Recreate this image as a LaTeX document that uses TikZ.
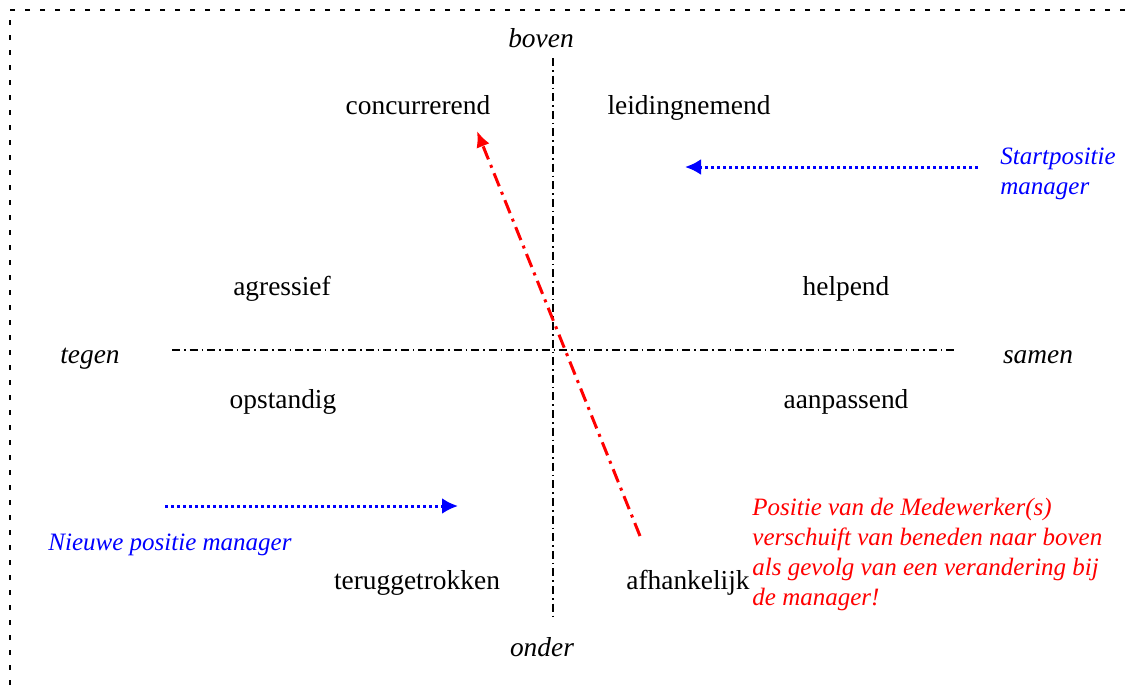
\documentclass[tikz,border=0pt]{standalone}
\usepackage{fontspec}
\setmainfont{Liberation Serif}
\usetikzlibrary{arrows.meta, positioning}
\definecolor{moveRed}{RGB}{255,0,0}
\definecolor{managerBlue}{RGB}{0,0,255}

\begin{document}
\begin{tikzpicture}[x=0.5pt, y=-0.5pt,
        every node/.style={font=\fontsize{13.7}{15}\selectfont, inner sep=0pt, text height=0.75em, text depth=0.25em},
        pole/.style={font=\fontsize{13.7}{15}\selectfont\itshape},
        axis/.style={line width=0.6pt, dash pattern=on 4pt off 2pt on 0.8pt off 2pt},
        frame/.style={line width=1pt, dash pattern=on 2.5pt off 5pt},
        moveline/.style={moveRed, line width=1.5pt, dash pattern=on 7pt off 3pt on 1.5pt off 3pt, -{Latex[length=8pt, width=7pt]}},
        manager/.style={managerBlue, line width=1.5pt, dash pattern=on 1.5pt off 1.5pt, -{Latex[length=8pt, width=8pt]}},
        note/.style={font=\fontsize{12.5}{15}\selectfont\itshape, align=left, text height=, text depth=}]
    \useasboundingbox (0,0) rectangle (1135,687);
    \draw[frame] (1140,10) -- (10,10) -- (10,692);

    % axes
    \coordinate (top) at (553,58);
    \coordinate (bottom) at (553,617);
    \coordinate (left) at (172,350);
    \coordinate (right) at (955,350);
    \draw[axis] (top) -- (bottom);
    \draw[axis] (left) -- (right);

    \node[pole] (boven) at (541,42) {boven};
    \node[pole] (onder) at (542,651) {onder};
    \node[pole] (tegen) at (90,358) {tegen};
    \node[pole] (samen) at (1038,358) {samen};

    % positions
    \node (concurrerend) at (418,109) {concurrerend};
    \node (leidingnemend) at (689,109) {leidingnemend};
    \node (agressief) at (282,290) {agressief};
    \node (helpend) at (846,290) {helpend};
    \node (opstandig) at (283,403) {opstandig};
    \node (aanpassend) at (846,403) {aanpassend};
    \node (teruggetrokken) at (417,584) {teruggetrokken};
    \node (afhankelijk) at (688,584) {afhankelijk};

    % shift of the employee
    \coordinate (shiftStart) at (640,536);
    \coordinate (shiftEnd) at (477,131);
    \draw[moveline] (shiftStart) -- (shiftEnd);
    \node[note, moveRed, anchor=north west] (shiftText) at (752,498)
        {Positie van de Medewerker(s)\\verschuift van beneden naar boven\\als gevolg van een verandering bij\\de manager!};

    % manager
    \coordinate (startFrom) at (978,167);
    \coordinate (startTo) at (685,167);
    \draw[manager] (startFrom) -- (startTo);
    \node[note, managerBlue, anchor=north west] (startText) at (1000,148) {Startpositie\\manager};

    \coordinate (newFrom) at (165,506);
    \coordinate (newTo) at (458,506);
    \draw[manager] (newFrom) -- (newTo);
    \node[note, managerBlue] (newText) at (170,545) {Nieuwe positie manager};
\end{tikzpicture}
\end{document}
